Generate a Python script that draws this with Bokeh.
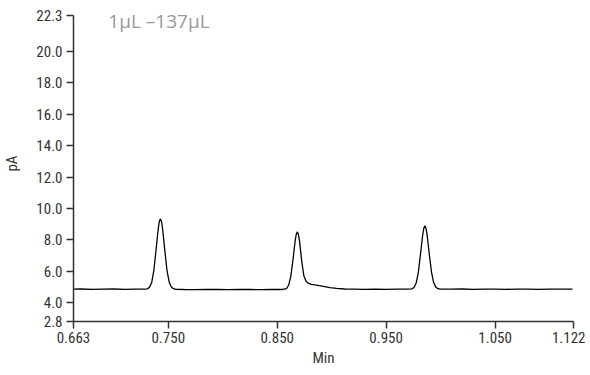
from bokeh.plotting import figure
from bokeh.models import Range1d, FixedTicker, Label
from bokeh.embed import file_html
from bokeh.resources import INLINE

# ---- data ----
time_min = [0.663, 0.670, 0.680, 0.690, 0.700, 0.710, 0.720, 0.728,
            0.7308, 0.7328, 0.7348, 0.7368, 0.7388, 0.7408, 0.7418, 0.7428,
            0.7438, 0.7448, 0.7468, 0.7488, 0.7508, 0.7528, 0.7548, 0.757,
            0.765, 0.775, 0.785, 0.795, 0.805, 0.815, 0.825, 0.835, 0.845, 0.855,
            0.8585, 0.8605, 0.8625, 0.8645, 0.8665, 0.8675, 0.8685, 0.8695,
            0.8705, 0.8725, 0.8745, 0.8765, 0.8785, 0.8815, 0.8845, 0.8885,
            0.8935, 0.8985, 0.9045, 0.912, 0.920, 0.930, 0.940, 0.950, 0.960, 0.970,
            0.9736, 0.9756, 0.9776, 0.9796, 0.9816, 0.9836, 0.9846, 0.9856,
            0.9866, 0.9876, 0.9896, 0.9916, 0.9936, 0.9956, 0.9976, 1.000,
            1.010, 1.020, 1.030, 1.040, 1.050, 1.060, 1.070, 1.080, 1.090,
            1.100, 1.110, 1.121]
signal_pA = [4.86, 4.87, 4.85, 4.86, 4.87, 4.85, 4.86, 4.86,
             4.88, 4.98, 5.29, 6.07, 7.37, 8.73, 9.18, 9.34,
             9.17, 8.71, 7.35, 6.08, 5.32, 5.00, 4.89, 4.85,
             4.84, 4.83, 4.84, 4.85, 4.83, 4.84, 4.84, 4.83, 4.84, 4.84,
             4.90, 5.11, 5.68, 6.75, 7.96, 8.36, 8.51, 8.34,
             7.92, 6.65, 5.70, 5.36, 5.24, 5.17, 5.13, 5.08,
             5.02, 4.96, 4.91, 4.87, 4.86, 4.85, 4.86, 4.85, 4.86, 4.86,
             4.88, 4.97, 5.25, 5.95, 7.12, 8.35, 8.75, 8.90,
             8.74, 8.33, 7.10, 5.97, 5.28, 4.99, 4.89, 4.86,
             4.86, 4.87, 4.85, 4.86, 4.86, 4.85, 4.86, 4.86, 4.85,
             4.86, 4.86, 4.86]

x_ticks = [0.663, 0.750, 0.850, 0.950, 1.050, 1.122]
x_tick_labels = ["0.663", "0.750", "0.850", "0.950", "1.050", "1.122"]
y_ticks = [2.8, 4.0, 6.0, 8.0, 10.0, 12.0, 14.0, 16.0, 18.0, 20.0, 22.3]
y_tick_labels = ["2.8", "4.0", "6.0", "8.0", "10.0", "12.0", "14.0", "16.0",
                 "18.0", "20.0", "22.3"]
title_text = "1µL –137µL"
x_label = "Min"
y_label = "pA"

FONT = "Liberation Sans Narrow, Roboto Condensed, Liberation Sans"

# frame is 10px taller than the axis so the title above 22.3 is not clipped
y_headroom = 10 * (y_ticks[-1] - y_ticks[0]) / 306

p = figure(frame_width=500, frame_height=316,
           x_range=Range1d(x_ticks[0], x_ticks[-1]),
           y_range=Range1d(y_ticks[0], y_ticks[-1] + y_headroom),
           output_backend="svg", toolbar_location=None,
           min_border_left=65, min_border_right=12,
           min_border_top=5, min_border_bottom=40)
p.outline_line_color = None
p.grid.grid_line_color = None
p.background_fill_color = "white"
p.border_fill_color = "white"

p.line(time_min, signal_pA, line_color="black", line_width=1.3)

for ax in (p.xaxis[0], p.yaxis[0]):
    ax.axis_line_color = "#333333"
    ax.axis_line_width = 1.5
    ax.major_tick_line_color = "#333333"
    ax.major_tick_line_width = 1.5
    ax.major_tick_out = 7
    ax.major_tick_in = 0
    ax.minor_tick_line_color = None
    ax.major_label_text_font = FONT
    ax.major_label_text_font_size = "15px"
    ax.major_label_text_color = "#333333"
    ax.axis_label_text_font = FONT
    ax.axis_label_text_font_size = "15px"
    ax.axis_label_text_font_style = "normal"
    ax.axis_label_text_color = "#333333"

p.xaxis[0].ticker = FixedTicker(ticks=x_ticks)
p.xaxis[0].major_label_overrides = dict(zip(x_ticks, x_tick_labels))
p.xaxis[0].major_label_standoff = 3
p.xaxis[0].axis_label = x_label
p.xaxis[0].axis_label_standoff = 3

p.yaxis[0].ticker = FixedTicker(ticks=y_ticks)
p.yaxis[0].bounds = (y_ticks[0], y_ticks[-1])
p.yaxis[0].major_label_overrides = dict(zip(y_ticks, y_tick_labels))
p.yaxis[0].major_label_standoff = 4
p.yaxis[0].axis_label = y_label
p.yaxis[0].axis_label_standoff = 12

p.add_layout(Label(x=0.695, y=21.95, text=title_text, text_font="Open Sans",
                   text_font_size="19px", text_color="#999999",
                   text_baseline="alphabetic"))

open("out.html", "w").write(file_html(p, INLINE))
